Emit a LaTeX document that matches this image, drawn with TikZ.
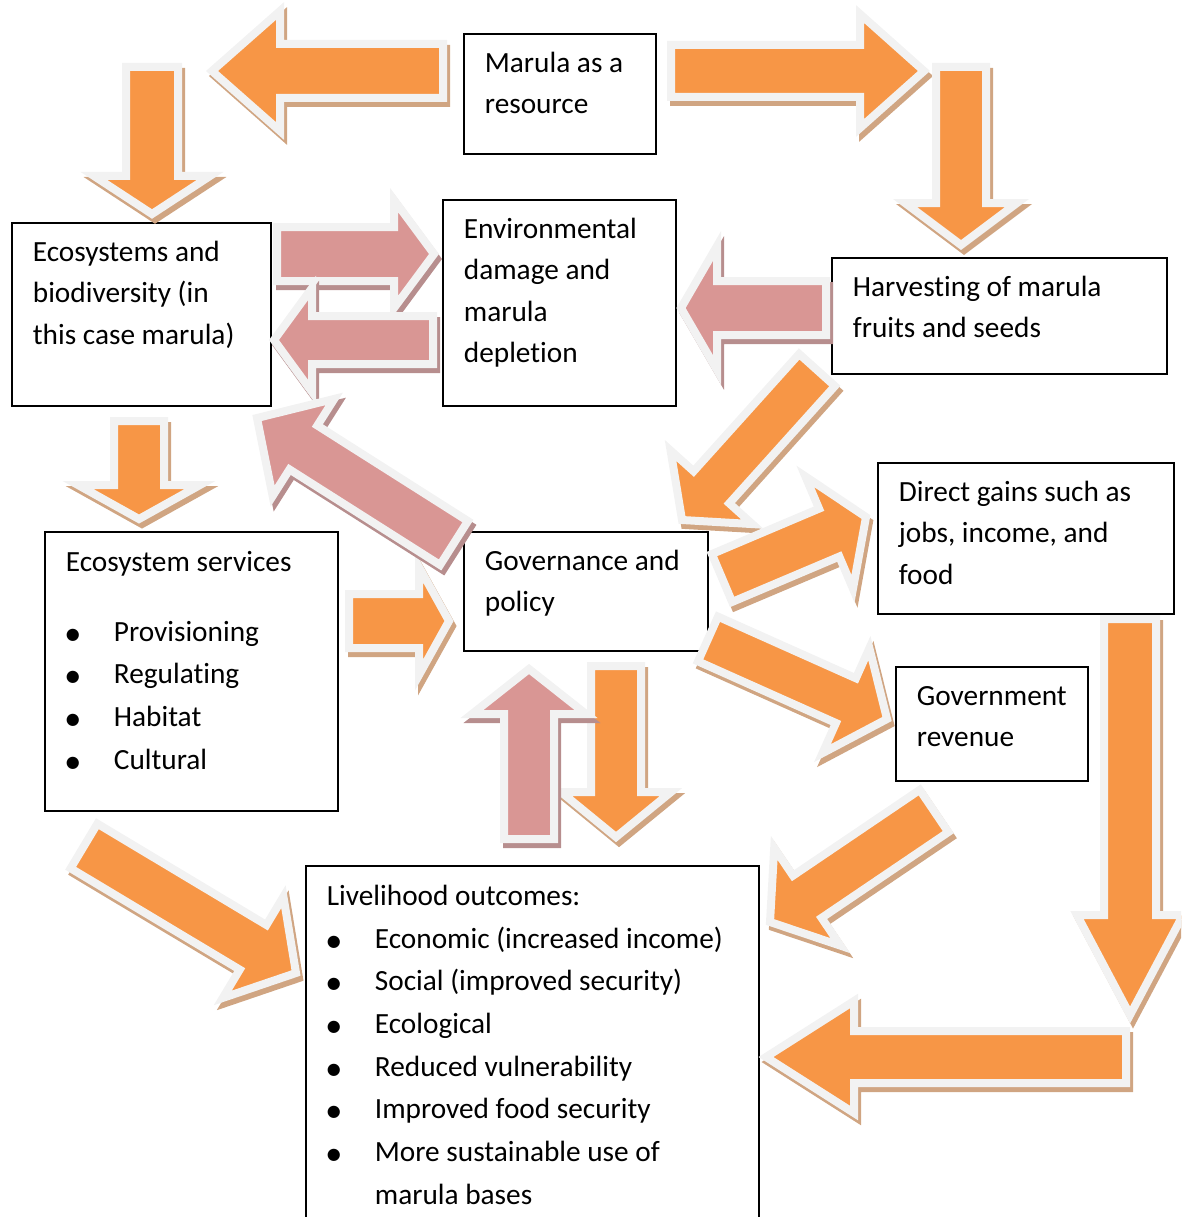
\documentclass[tikz,border=0pt]{standalone}
\usepackage{fontspec}
\setmainfont{Carlito}[Ligatures=NoCommon]
\newfontfamily\dotfont{DejaVu Sans}

\definecolor{orfill}{HTML}{F79646}
\definecolor{orshade}{HTML}{D0A582}
\definecolor{pkfill}{HTML}{D99694}
\definecolor{pkshade}{HTML}{B78E8E}
\definecolor{rim}{HTML}{F2F2F2}

% outline of a block arrow along the local x axis
\newcommand\baOutline{(0,-\baS) -- (\baBase,-\baS) -- (\baBase,-\baH) -- (\baLen,0)
  -- (\baBase,\baH) -- (\baBase,\baS) -- (0,\baS) -- cycle}

% #1 colour set (or/pk), #2,#3 tail, #4,#5 tip, #6 shaft width, #7 head width, #8 head length
\newcommand\blockarrow[8]{%
  \pgfmathsetmacro\baAng{atan2(#3-#5,#4-#2)}%
  \pgfmathsetmacro\baLen{veclen(#4-#2,#5-#3)}%
  \pgfmathsetmacro\baBase{\baLen-#8}%
  \pgfmathsetmacro\baS{#6/2}%
  \pgfmathsetmacro\baH{#7/2}%
  \begin{scope}[shift={(#2+3,#3+5)},rotate=\baAng]
    \filldraw[arrowrim, draw=#1shade, fill=#1shade] \baOutline;
  \end{scope}
  \begin{scope}[shift={(#2,#3)},rotate=\baAng]
    \filldraw[arrowrim, draw=rim, fill=#1fill] \baOutline;
  \end{scope}}

% top-aligned text block inside a box of given width and height
\newcommand\boxtext[3]{\parbox[c][#2pt][t]{#1pt}{\vspace*{9.5pt}\leftskip=21pt
  \rightskip=0pt plus 1fil\relax\strut#3}}
\newcommand\itm{\makebox[48pt][l]{\raisebox{2pt}{\dotfont\fontsize{16}{16}\selectfont ●}}}

\begin{document}
\begin{tikzpicture}[x=1pt,y=-1pt,
  box/.style={draw=black, line width=1.8pt, fill=white, inner sep=0pt,
    anchor=north west, font=\fontsize{29.3}{41.5}\selectfont},
  listbox/.style={box, font=\fontsize{29.3}{42.7}\selectfont},
  arrowrim/.style={line width=8pt, line join=miter, miter limit=10}]
\useasboundingbox (0,0) rectangle (1181,1217);
\clip (0,0) rectangle (1181,1217);

% boxes
\node[box] (marula) at (463,33) {\boxtext{192}{120}{Marula as a\\resource}};
\node[box] (ecosys) at (11,222) {\boxtext{259}{183}{Ecosystems and\\biodiversity (in\\this case marula)}};
\node[box] (envdmg) at (442,199) {\boxtext{233}{206}{Environmental\\damage and\\marula\\depletion}};
\node[box] (harvest) at (831,257) {\boxtext{335}{116}{Harvesting of marula\\fruits and seeds}};
\node[listbox] (ecoserv) at (44,531) {\boxtext{293}{279}{Ecosystem services\\[27.3pt]
  \itm Provisioning\\ \itm Regulating\\ \itm Habitat\\ \itm Cultural}};
\node[box] (govern) at (463,531) {\boxtext{244}{119}{Governance and\\policy}};
\node[box] (gains) at (877,462) {\boxtext{296}{151}{Direct gains such as\\jobs, income, and\\food}};
\node[box] (revenue) at (895,666) {\boxtext{192}{114}{Government\\revenue}};
\node[listbox] (outcomes) at (305,865) {\boxtext{453}{370}{Livelihood outcomes:\\
  \itm Economic (increased income)\\ \itm Social (improved security)\\
  \itm Ecological\\ \itm Reduced vulnerability\\ \itm Improved food security\\
  \itm More sustainable use of\\ \hspace*{48pt}marula bases}};

% block arrows
\blockarrow{or}{443}{71}{212}{71}{54}{120}{68}
\blockarrow{or}{671}{71}{924}{71}{52}{114}{64}
\blockarrow{or}{961}{67}{961}{245}{50}{112}{42}
\blockarrow{or}{152}{67}{152}{214}{52}{116}{38}
\blockarrow{pk}{277}{254}{434}{254}{54}{108}{40}
\blockarrow{pk}{433}{340}{274}{340}{48}{104}{38}
\blockarrow{pk}{826}{308}{681}{308}{54}{124}{36}
\blockarrow{or}{139}{421}{139}{519}{50}{122}{34}
\blockarrow{or}{349}{621}{449}{621}{54}{108}{30}
\blockarrow{pk}{454}{543}{257}{418}{52}{115}{55}
\blockarrow{or}{817}{370}{682}{520}{48}{110}{44}
\blockarrow{or}{722}{578}{866}{517}{52}{122}{40}
\blockarrow{or}{708}{639}{887}{719}{49}{115}{45}
\blockarrow{or}{84}{846}{296}{973}{52}{118}{50}
\blockarrow{or}{616}{666}{616}{837}{50}{110}{45}
\blockarrow{pk}{529}{839}{529}{669}{50}{114}{45}
\blockarrow{or}{934}{811}{770}{922}{51}{118}{45}
\blockarrow{or}{1126}{1057}{766}{1057}{52}{112}{88}
\blockarrow{or}{1130}{619}{1130}{1015}{52}{106}{100}
\end{tikzpicture}
\end{document}
